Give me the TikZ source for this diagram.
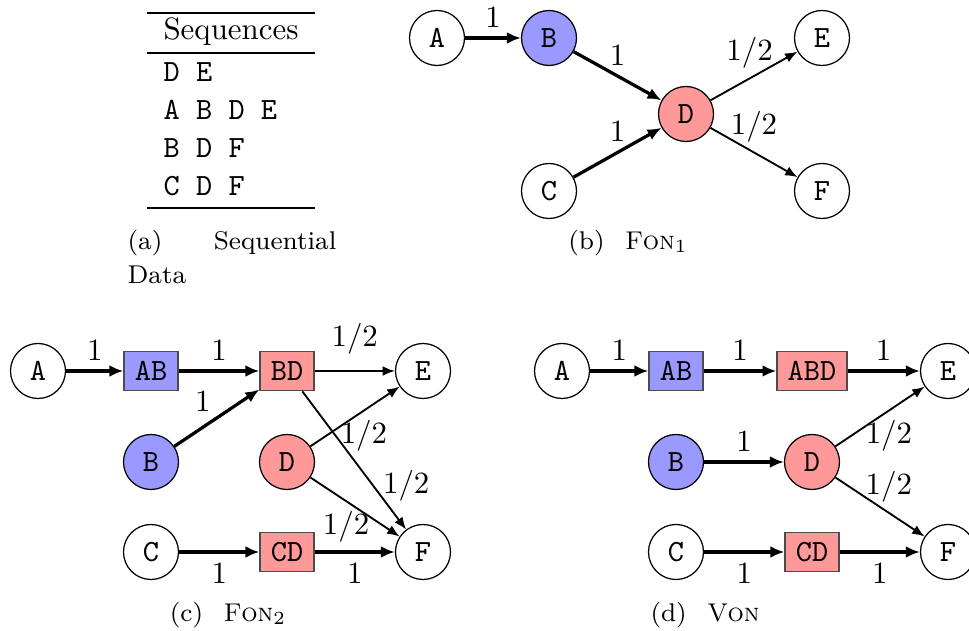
\documentclass[tikz,border=0pt]{standalone}
\usetikzlibrary{arrows.meta}
\definecolor{nblue}{HTML}{9999FF}
\definecolor{nred}{HTML}{FF9999}
\begin{document}
\begin{tikzpicture}[x=0.3236pt,y=-0.3236pt,
  every node/.style={inner sep=0pt},
  cnode/.style={circle,draw,minimum size=17.8pt,font=\ttfamily},
  bnode/.style={rectangle,draw=black!70,minimum width=17.5pt,minimum height=12.8pt,font=\ttfamily},
  bluef/.style={fill=nblue},
  redf/.style={fill=nred},
  strong/.style={line width=1.05pt,-{Latex[length=4.5pt,width=3.8pt]}},
  weak/.style={semithick,-{Latex[length=4pt,width=3.2pt]}},
  lab/.style={inner sep=3pt,font=\normalsize},
  captxt/.style={font=\fontsize{8.3}{10}\selectfont},
  rulex/.style={line width=0.5pt}]
\useasboundingbox (0,0) rectangle (969,631);

% (a) table
\coordinate (r1l) at (147,13); \coordinate (r1r) at (315,13);
\coordinate (r2l) at (147,53); \coordinate (r2r) at (315,53);
\coordinate (r3l) at (147,208); \coordinate (r3r) at (315,208);
\draw[rulex] (r1l) -- (r1r);
\draw[rulex,line width=0.35pt] (r2l) -- (r2r);
\draw[rulex] (r3l) -- (r3r);
\node (hdr) at (231,32) {Sequences};
\node[anchor=west,font=\ttfamily] (s1) at (163,72) {D E};
\node[anchor=west,font=\ttfamily] (s2) at (163,110) {A B D E};
\node[anchor=west,font=\ttfamily] (s3) at (163,148) {B D F};
\node[anchor=west,font=\ttfamily] (s4) at (163,186) {C D F};
\node[captxt,anchor=west] (capa1) at (127,243) {(a)};
\node[captxt,anchor=east] (capa2) at (337,243) {Sequential};
\node[captxt,anchor=west] (capa3) at (127,275) {Data};

% (b) FON_1
\node[cnode] (bA) at (437,38) {A};
\node[cnode,bluef] (bB) at (549,38) {B};
\node[cnode,redf] (bD) at (686,114) {D};
\node[cnode] (bC) at (549,191) {C};
\node[cnode] (bE) at (822,38) {E};
\node[cnode] (bF) at (822,191) {F};
\draw[strong] (bA) -- node[lab,above] {1} (bB);
\draw[strong] (bB) -- node[lab,above] {1} (bD);
\draw[strong] (bC) -- node[lab,above] {1} (bD);
\draw[weak] (bD) -- node[lab,pos=0.45,above] {1/2} (bE);
\draw[weak] (bD) -- node[lab,pos=0.5,above] {1/2} (bF);
\node[captxt] (capb) at (628,243) {(b)\hspace{0.8em}\textsc{Fon}$_1$};

% (c) FON_2
\node[cnode] (cA) at (38,371) {A};
\node[bnode,bluef] (cAB) at (151,371) {AB};
\node[bnode,redf] (cBD) at (287,371) {BD};
\node[cnode] (cE) at (423,371) {E};
\node[cnode,bluef] (cB) at (151,462) {B};
\node[cnode,redf] (cD) at (287,462) {D};
\node[cnode] (cC) at (151,552) {C};
\node[bnode,redf] (cCD) at (287,552) {CD};
\node[cnode] (cF) at (423,552) {F};
\draw[strong] (cA) -- node[lab,above] {1} (cAB);
\draw[strong] (cAB) -- node[lab,above] {1} (cBD);
\draw[strong] (cB) -- node[lab,pos=0.5,above left,inner sep=1.5pt] {1} (cBD);
\draw[weak] (cBD) -- node[lab,above,inner sep=5pt] {1/2} (cE);
\draw[weak] (cD) -- node[lab,pos=0.6,below] {1/2} (cE);
\draw[weak] (cBD) -- node[lab,pos=0.68,right] {1/2} (cF);
\draw[weak] (cD) -- node[lab,pos=0.4,below] {1/2} (cF);
\draw[strong] (cC) -- node[lab,below] {1} (cCD);
\draw[strong] (cCD) -- node[lab,below] {1} (cF);
\node[captxt] (capc) at (228,615) {(c)\hspace{0.8em}\textsc{Fon}$_2$};

% (d) VON
\node[cnode] (dA) at (562,371) {A};
\node[bnode,bluef] (dAB) at (676,371) {AB};
\node[bnode,redf,minimum width=22.6pt] (dABD) at (812,371) {ABD};
\node[cnode] (dE) at (948,371) {E};
\node[cnode,bluef] (dB) at (676,462) {B};
\node[cnode,redf] (dD) at (812,462) {D};
\node[cnode] (dC) at (676,552) {C};
\node[bnode,redf] (dCD) at (812,552) {CD};
\node[cnode] (dF) at (948,552) {F};
\draw[strong] (dA) -- node[lab,above] {1} (dAB);
\draw[strong] (dAB) -- node[lab,above] {1} (dABD);
\draw[strong] (dABD) -- node[lab,above] {1} (dE);
\draw[strong] (dB) -- node[lab,above] {1} (dD);
\draw[weak] (dD) -- node[lab,pos=0.6,below] {1/2} (dE);
\draw[weak] (dD) -- node[lab,pos=0.6,above] {1/2} (dF);
\draw[strong] (dC) -- node[lab,below] {1} (dCD);
\draw[strong] (dCD) -- node[lab,below] {1} (dF);
\node[captxt] (capd) at (705,615) {(d)\hspace{0.8em}\textsc{Von}};
\end{tikzpicture}
\end{document}
